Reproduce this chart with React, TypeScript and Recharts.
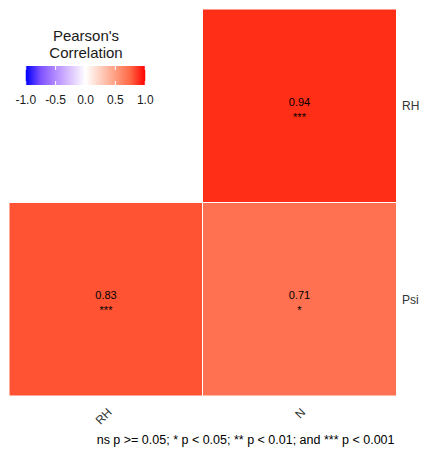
import { BarChart, Bar, XAxis, YAxis, Cell, LabelList } from "recharts";

// columns (x) and rows (y) of the lower-triangle correlation matrix
const columns = ["RH", "N"];
const rows = ["Psi", "RH"];

// Psi row
const psiCorr = [0.83, 0.71];
const psiSig = ["***", "*"];

// RH row (RH vs RH is not drawn)
const rhCorr: (number | null)[] = [null, 0.94];
const rhSig: (string | null)[] = [null, "***"];

const legendTicks = [-1, -0.5, 0, 0.5, 1];
const caption = "ns p >= 0.05; * p < 0.05; ** p < 0.01; and *** p < 0.001";

const FONT = "'Liberation Sans', Arial, sans-serif";

// the y labels sit right at the window edge, so drop the default body margin
// and put the 8px offset inside our own box
if (typeof document !== "undefined") document.body.style.margin = "0";

// blue - white - red gradient interpolated in Lab, like ggplot's scale_fill_gradient2
const LAB_LOW = [32.3, 79.19, -107.86];
const LAB_MID = [100, 0, 0];
const LAB_HIGH = [53.24, 80.09, 67.2];

const labToHex = (L: number, a: number, b: number) => {
  const fy = (L + 16) / 116;
  const fx = fy + a / 500;
  const fz = fy - b / 200;
  const inv = (t: number) =>
    t > 6 / 29 ? t * t * t : 3 * (6 / 29) * (6 / 29) * (t - 4 / 29);
  const X = 0.95047 * inv(fx);
  const Y = inv(fy);
  const Z = 1.08883 * inv(fz);
  const lin = [
    3.2406 * X - 1.5372 * Y - 0.4986 * Z,
    -0.9689 * X + 1.8758 * Y + 0.0415 * Z,
    0.0557 * X - 0.204 * Y + 1.057 * Z,
  ];
  return (
    "#" +
    lin
      .map((v) => {
        const g = v <= 0.0031308 ? 12.92 * v : 1.055 * Math.pow(v, 1 / 2.4) - 0.055;
        const c = Math.round(Math.min(1, Math.max(0, g)) * 255);
        return c.toString(16).padStart(2, "0");
      })
      .join("")
  );
};

const corrColor = (r: number) => {
  const end = r >= 0 ? LAB_HIGH : LAB_LOW;
  const t = Math.abs(r);
  const lab = LAB_MID.map((m, i) => m + (end[i] - m) * t);
  return labToHex(lab[0], lab[1], lab[2]);
};

const cellText = (r: number | null, sig: string | null) =>
  r == null ? null : `${r.toFixed(2)}|${sig ?? ""}`;

const table = columns.map((col, i) => ({
  col,
  psi: 1,
  rh: rhCorr[i] == null ? 0 : 1,
  psiCorr: psiCorr[i],
  rhCorr: rhCorr[i],
  psiText: cellText(psiCorr[i], psiSig[i]),
  rhText: cellText(rhCorr[i], rhSig[i]),
}));

const CellLabel = (props: any) => {
  const { x, y, width, height, value } = props;
  if (value == null || !height) return null;
  const [num, sig] = String(value).split("|");
  const cx = x + width / 2;
  const cy = y + height / 2;
  return (
    <g>
      <text x={cx} y={cy} textAnchor="middle" fontSize={11} fontFamily={FONT} fill="#000">
        {num}
      </text>
      <text x={cx} y={cy + 15} textAnchor="middle" fontSize={11} fontFamily={FONT} fill="#000">
        {sig}
      </text>
    </g>
  );
};

const XTick = (props: any) => {
  const { x, y, payload } = props;
  const ax = x + 7;
  const ay = y + 17;
  return (
    <text
      x={ax}
      y={ay}
      textAnchor="end"
      transform={`rotate(-45, ${ax}, ${ay})`}
      fontSize={12}
      fontFamily={FONT}
      fill="#333"
    >
      {payload.value}
    </text>
  );
};

const YTick = (props: any) => {
  const { x, y, payload } = props;
  return (
    <text x={x + 6} y={y} dy="0.36em" textAnchor="start" fontSize={12} fontFamily={FONT} fill="#333">
      {rows[payload.value > 1 ? 1 : 0]}
    </text>
  );
};

// legend colour bar geometry (px, relative to the chart box)
const barX = 17.75;
const barY = 58;
const barW = 119.5;
const barH = 19;
const legendX = (v: number) => barX + ((v + 1) / 2) * barW;
const gradientStops = [-1, -0.75, -0.5, -0.25, 0, 0.25, 0.5, 0.75, 1];

export default function App() {
  return (
    <div style={{ position: "relative", width: 422, height: 452, fontFamily: FONT, background: "#fff" }}>
      <div style={{ position: "absolute", left: 8, top: 8, width: 414, height: 444 }}>
        <BarChart
          width={414}
          height={444}
          data={table}
          margin={{ top: 1, right: 0, bottom: 0, left: 1 }}
          barCategoryGap={0}
          barGap={0}
        >
          <XAxis
            dataKey="col"
            type="category"
            axisLine={false}
            tickLine={false}
            tickSize={0}
            tickMargin={0}
            height={56}
            tick={<XTick />}
            interval={0}
          />
          <YAxis
            type="number"
            orientation="right"
            domain={[0, 2]}
            ticks={[0.5, 1.5]}
            axisLine={false}
            tickLine={false}
            tickSize={0}
            tickMargin={0}
            width={26}
            tick={<YTick />}
          />
          <Bar dataKey="psi" stackId="m" stroke="#fff" strokeWidth={1} isAnimationActive={false}>
            {table.map((d, i) => (
              <Cell key={`p${i}`} fill={corrColor(d.psiCorr)} />
            ))}
            <LabelList dataKey="psiText" content={<CellLabel />} />
          </Bar>
          <Bar dataKey="rh" stackId="m" stroke="#fff" strokeWidth={1} isAnimationActive={false}>
            {table.map((d, i) => (
              <Cell key={`r${i}`} fill={d.rhCorr == null ? "none" : corrColor(d.rhCorr)} />
            ))}
            <LabelList dataKey="rhText" content={<CellLabel />} />
          </Bar>
        </BarChart>
        <svg
          width={414}
          height={444}
          style={{ position: "absolute", left: 0, top: 0, pointerEvents: "none" }}
        >
          <defs>
            <linearGradient id="corrGrad" x1="0" x2="1" y1="0" y2="0">
              {gradientStops.map((v) => (
                <stop key={v} offset={`${((v + 1) / 2) * 100}%`} stopColor={corrColor(v)} />
              ))}
            </linearGradient>
          </defs>
          <text x={78} y={33} textAnchor="middle" fontSize={15} fontFamily={FONT} fill="#1a1a1a">
            Pearson's
          </text>
          <text x={78} y={49.5} textAnchor="middle" fontSize={15} fontFamily={FONT} fill="#1a1a1a">
            Correlation
          </text>
          <rect x={barX} y={barY} width={barW} height={barH} fill="url(#corrGrad)" />
          {legendTicks.map((v) => (
            <g key={v}>
              <line x1={legendX(v)} x2={legendX(v)} y1={barY} y2={barY + 4} stroke="#fff" strokeWidth={1} />
              <line
                x1={legendX(v)}
                x2={legendX(v)}
                y1={barY + barH - 4}
                y2={barY + barH}
                stroke="#fff"
                strokeWidth={1}
              />
              <text x={legendX(v)} y={96} textAnchor="middle" fontSize={12} fontFamily={FONT} fill="#1a1a1a">
                {v.toFixed(1)}
              </text>
            </g>
          ))}
          <text x={386.5} y={435.5} textAnchor="end" fontSize={12.5} fontFamily={FONT} fill="#000">
            {caption}
          </text>
        </svg>
      </div>
    </div>
  );
}
